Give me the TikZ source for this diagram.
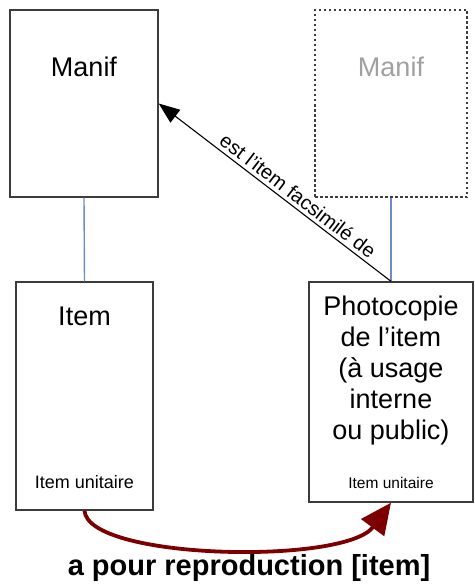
\documentclass[tikz,border=0pt]{standalone}
\usepackage{fontspec}
\setmainfont{Liberation Sans}
\usetikzlibrary{arrows.meta}
\definecolor{boxline}{RGB}{60,60,60}
\definecolor{linkblue}{RGB}{110,140,200}
\definecolor{ghost}{RGB}{160,160,160}
\definecolor{darkred}{RGB}{125,0,0}
\tikzset{
  box/.style={draw=boxline, line width=1.4pt, inner sep=0pt},
  ghostbox/.style={draw=boxline, line width=1.4pt, inner sep=0pt, dash pattern=on 2.5pt off 2.5pt},
  link/.style={draw=linkblue, line width=1.4pt},
  bigtxt/.style={font=\fontsize{27}{31}\selectfont, inner sep=0pt},
  smalltxt/.style={font=\fontsize{18}{21}\selectfont, inner sep=0pt},
  tinytxt/.style={font=\fontsize{15.5}{18}\selectfont, inner sep=0pt},
}
\begin{document}
\begin{tikzpicture}[x=1pt,y=-1pt]
\useasboundingbox (0,0) rectangle (474,586);
% boxes
\node[box, minimum width=148pt, minimum height=187pt] (manifL) at (84,103.5) {};
\node[ghostbox, minimum width=152pt, minimum height=187pt] (manifR) at (391,103.5) {};
\node[box, minimum width=137pt, minimum height=228pt] (item) at (84.5,396) {};
\node[box, minimum width=164pt, minimum height=220pt] (ph) at (391,392) {};
% texts
\node[bigtxt, anchor=base] (tManifL) at (84,76) {Manif};
\node[bigtxt, anchor=base, text=ghost] (tManifR) at (391,76) {Manif};
\node[bigtxt, anchor=base] (tItem) at (84.5,325) {Item};
\node[smalltxt, anchor=base] (tIU1) at (84.5,488) {Item unitaire};
\node[bigtxt, align=center] (tPh) at (391,371) {Photocopie\\de l’item\\(à usage\\interne\\ou public)};
\node[tinytxt, anchor=base] (tIU2) at (391,488) {Item unitaire};
% links
\draw[link] (manifL.south) -- (item.north);
\draw[link] (manifR.south) -- (ph.north);
% facsimile arrow
\draw[line width=1.1pt, -{Triangle[length=21pt,width=16pt]}] (ph.north) -- node[pos=0.43, sloped, above=2.5pt, font=\fontsize{20}{23}\selectfont, inner sep=1pt] (tFac) {est l’item facsimilé de} (manifL.east);
% reproduction arrow
\draw[darkred, line width=3.8pt, -{Triangle[length=31pt,width=28pt]}] (item.south) .. controls (88,560) and (345,565) .. (ph.south);
\node[font=\bfseries\fontsize{29}{33}\selectfont, anchor=base, inner sep=0pt] (tRep) at (249,575) {a pour reproduction [item]};
\end{tikzpicture}
\end{document}
